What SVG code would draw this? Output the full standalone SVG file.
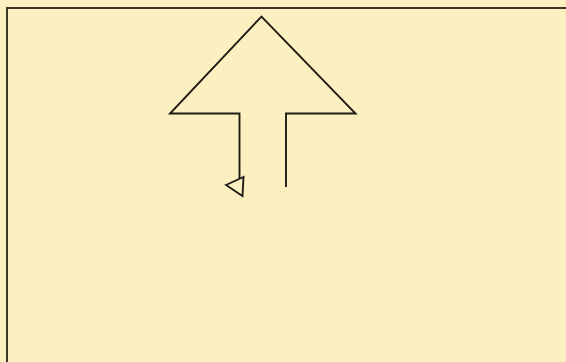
<svg xmlns="http://www.w3.org/2000/svg" width="566" height="362" viewBox="0 0 566 362">
<style>
.ln{fill:none;stroke:#1f1c17;stroke-width:1.9;stroke-linejoin:miter;stroke-linecap:butt}
.bd{fill:none;stroke:#3a3528;stroke-width:2}
</style>
<rect x="0" y="0" width="566" height="362" fill="#fcf0c0"/>
<g id="frame">
<line class="bd" x1="6" y1="8" x2="566" y2="8"/>
<line class="bd" x1="7" y1="8" x2="7" y2="362"/>
</g>
<g id="arrow">
<polyline class="ln" points="239.5,179 239.5,113.5 170,113.5 261.5,16.5 355.5,113.5 286,113.5 286,187"/>
</g>
<g id="turtle">
<polygon class="ln" points="226,185 243.5,177 242.5,196"/>
</g>
</svg>
